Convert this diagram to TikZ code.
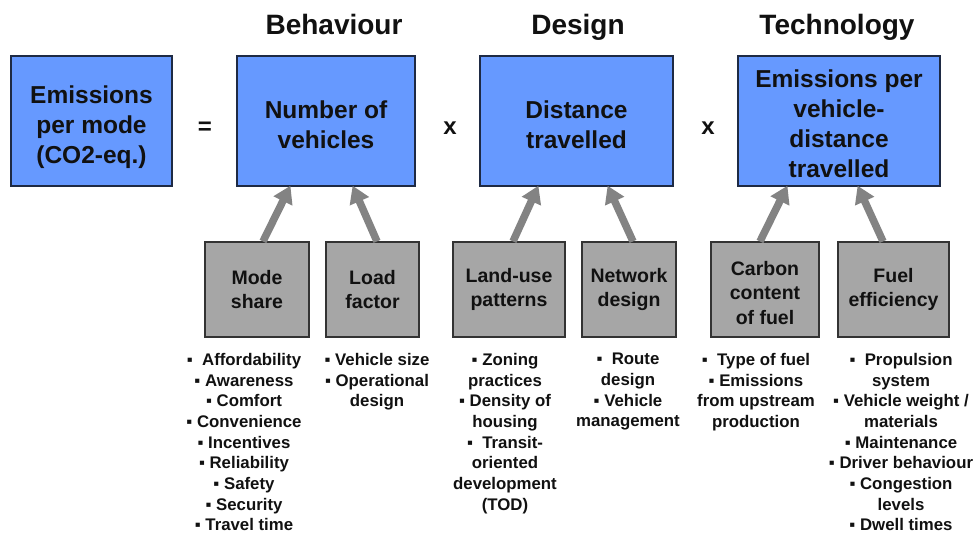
\documentclass[tikz,border=0pt]{standalone}
\usepackage{fontspec}
\setmainfont{Liberation Sans}
\usetikzlibrary{arrows.meta}
\definecolor{boxblue}{HTML}{6699FF}
\definecolor{boxedge}{HTML}{1E2A44}
\definecolor{boxgray}{HTML}{A6A6A6}
\definecolor{arrowgray}{HTML}{838383}
\definecolor{ink}{HTML}{111111}
\begin{document}
\begin{tikzpicture}[x=1pt,y=-1pt,
  bluebox/.style={draw=boxedge,line width=1.2pt,fill=boxblue,inner sep=0pt,minimum height=130pt},
  bluetext/.style={align=center,inner sep=0pt,font=\fontsize{24.5}{30}\selectfont\bfseries,text=ink},
  graybox/.style={draw=black!80,line width=1.2pt,fill=boxgray,align=center,inner sep=0pt,
    font=\fontsize{19.5}{24.5}\selectfont\bfseries,text=ink,minimum height=95pt},
  graytext/.style={align=center,inner sep=0pt,font=\fontsize{19.5}{24.5}\selectfont\bfseries,text=ink},
  header/.style={font=\fontsize{28}{30}\selectfont\bfseries,text=ink,inner sep=0pt,anchor=base},
  op/.style={font=\fontsize{24}{26}\selectfont\bfseries,text=ink,inner sep=0pt},
  bullets/.style={align=center,font=\fontsize{16.8}{20.7}\selectfont\bfseries,text=ink,inner sep=0pt,anchor=north},
  feed/.style={draw=arrowgray,line width=7.5pt,-{Triangle[length=17pt,width=20pt]},shorten >=-1pt}
]
\useasboundingbox (0,0) rectangle (973,533);
\fill[white] (0,0) rectangle (973,533);

% headers
\node[header] (hb) at (334,34) {Behaviour};
\node[header] (hd) at (578,34) {Design};
\node[header] (ht) at (837,34) {Technology};

% blue boxes
\node[bluebox,minimum width=161pt] (em) at (91.5,121) {};
\node[bluebox,minimum width=178pt] (nv) at (326,121) {};
\node[bluebox,minimum width=193pt] (dt) at (576.5,121) {};
\node[bluebox,minimum width=202pt] (ep) at (839,121) {};
\node[bluetext] (emt) at ([yshift=-6pt]em.center) {Emissions\\per mode\\(CO2-eq.)};
\node[bluetext] (nvt) at ([yshift=-4pt]nv.center) {Number of\\vehicles};
\node[bluetext] (dtt) at ([yshift=-4pt]dt.center) {Distance\\travelled};
\node[bluetext] (ept) at ([yshift=-3pt]ep.center) {Emissions per\\vehicle-\\distance\\travelled};

% operators
\node[op] (eq) at (205,128) {=};
\node[op] (x1) at (450,128) {x};
\node[op] (x2) at (708,128) {x};

% gray boxes
\node[graybox,minimum width=104pt] (ms) at (257,289.5) {Mode\\share};
\node[graybox,minimum width=93pt] (lf) at (372.5,289.5) {Load\\factor};
\node[graybox,minimum width=112pt] (lu) at (509,289.5) {Land-use\\patterns};
\node[graybox,minimum width=94pt] (nd) at (629,289.5) {Network\\design};
\node[graybox,minimum width=108pt] (cc) at (765,289.5) {};
\node[graytext] (cct) at ([yshift=-3.5pt]cc.center) {Carbon\\content\\of fuel};
\node[graybox,minimum width=111pt] (fe) at (893.5,289.5) {Fuel\\efficiency};

% arrows
\draw[feed] ([xshift=6pt]ms.north) -- ([xshift=-36pt]nv.south);
\draw[feed] ([xshift=4.5pt]lf.north) -- ([xshift=27pt]nv.south);
\draw[feed] ([xshift=4pt]lu.north) -- ([xshift=-38.5pt]dt.south);
\draw[feed] ([xshift=4pt]nd.north) -- ([xshift=31.5pt]dt.south);
\draw[feed] ([xshift=-5pt]cc.north) -- ([xshift=-52pt]ep.south);
\draw[feed] ([xshift=-10.5pt]fe.north) -- ([xshift=19pt]ep.south);

% bullet lists
\node[bullets] (bms) at (244,353) {▪~ Affordability\\▪ Awareness\\▪ Comfort\\▪ Convenience\\▪ Incentives\\▪ Reliability\\▪ Safety\\▪ Security\\▪ Travel time};
\node[bullets] (blf) at (377,353) {▪ Vehicle size\\▪ Operational\\design};
\node[bullets] (blu) at (505,353) {▪ Zoning\\practices\\▪ Density of\\housing\\▪~ Transit-\\oriented\\development\\(TOD)};
\node[bullets] (bnd) at (628,353) {▪~ Route\\design\\▪ Vehicle\\management};
\node[bullets] (bcc) at (756,353) {▪~ Type of fuel\\▪ Emissions\\from upstream\\production};
\node[bullets] (bfe) at (901,353) {▪~ Propulsion\\system\\▪ Vehicle weight /\\materials\\▪ Maintenance\\▪ Driver behaviour\\▪ Congestion\\levels\\▪ Dwell times};
\end{tikzpicture}
\end{document}
